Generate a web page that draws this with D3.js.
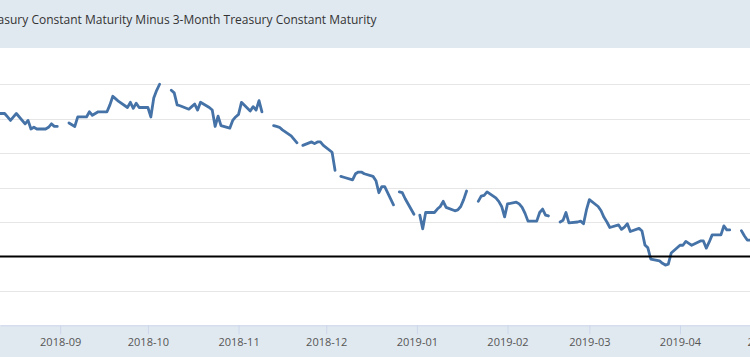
<!DOCTYPE html>
<html>
<head>
<meta charset="utf-8">
<script src="https://cdn.jsdelivr.net/npm/d3@7/dist/d3.min.js"></script>
<style>
  html, body { margin: 0; padding: 0; background: #ffffff; }
  svg { display: block; }
</style>
</head>
<body>
<div id="chart"></div>
<script>
const titleText = "10-Year Treasury Constant Maturity Minus 3-Month Treasury Constant Maturity";

const dates = [
  "2018-08-09","2018-08-10","2018-08-13","2018-08-14","2018-08-15","2018-08-16","2018-08-17",
  "2018-08-20","2018-08-21","2018-08-22","2018-08-23","2018-08-24","2018-08-27","2018-08-28",
  "2018-08-29","2018-08-30","2018-08-31","2018-09-03","2018-09-04","2018-09-05","2018-09-06",
  "2018-09-07","2018-09-10","2018-09-11","2018-09-12","2018-09-13","2018-09-14","2018-09-17",
  "2018-09-18","2018-09-19","2018-09-20","2018-09-21","2018-09-24","2018-09-25","2018-09-26",
  "2018-09-27","2018-09-28","2018-10-01","2018-10-02","2018-10-03","2018-10-04","2018-10-05",
  "2018-10-08","2018-10-09","2018-10-10","2018-10-11","2018-10-12","2018-10-15","2018-10-16",
  "2018-10-17","2018-10-18","2018-10-19","2018-10-22","2018-10-23","2018-10-24","2018-10-25",
  "2018-10-26","2018-10-29","2018-10-30","2018-10-31","2018-11-01","2018-11-02","2018-11-05",
  "2018-11-06","2018-11-07","2018-11-08","2018-11-09","2018-11-12","2018-11-13","2018-11-14",
  "2018-11-15","2018-11-16","2018-11-19","2018-11-20","2018-11-21","2018-11-22","2018-11-23",
  "2018-11-26","2018-11-27","2018-11-28","2018-11-29","2018-11-30","2018-12-03","2018-12-04",
  "2018-12-05","2018-12-06","2018-12-07","2018-12-10","2018-12-11","2018-12-12","2018-12-13",
  "2018-12-14","2018-12-17","2018-12-18","2018-12-19","2018-12-20","2018-12-21","2018-12-24",
  "2018-12-25","2018-12-26","2018-12-27","2018-12-28","2018-12-31","2019-01-01","2019-01-02",
  "2019-01-03","2019-01-04","2019-01-07","2019-01-08","2019-01-09","2019-01-10","2019-01-11",
  "2019-01-14","2019-01-15","2019-01-16","2019-01-17","2019-01-18","2019-01-21","2019-01-22",
  "2019-01-23","2019-01-24","2019-01-25","2019-01-28","2019-01-29","2019-01-30","2019-01-31",
  "2019-02-01","2019-02-04","2019-02-05","2019-02-06","2019-02-07","2019-02-08","2019-02-11",
  "2019-02-12","2019-02-13","2019-02-14","2019-02-15","2019-02-18","2019-02-19","2019-02-20",
  "2019-02-21","2019-02-22","2019-02-25","2019-02-26","2019-02-27","2019-02-28","2019-03-01",
  "2019-03-04","2019-03-05","2019-03-06","2019-03-07","2019-03-08","2019-03-11","2019-03-12",
  "2019-03-13","2019-03-14","2019-03-15","2019-03-18","2019-03-19","2019-03-20","2019-03-21",
  "2019-03-22","2019-03-25","2019-03-26","2019-03-27","2019-03-28","2019-03-29","2019-04-01",
  "2019-04-02","2019-04-03","2019-04-04","2019-04-05","2019-04-08","2019-04-09","2019-04-10",
  "2019-04-11","2019-04-12","2019-04-15","2019-04-16","2019-04-17","2019-04-18","2019-04-19",
  "2019-04-22","2019-04-23","2019-04-24","2019-04-25"
];

const spread = [
  0.83, 0.83, 0.83, 0.81, 0.79, 0.81, 0.83,
  0.77, 0.79, 0.74, 0.75, 0.74, 0.74, 0.75,
  0.77, 0.755, 0.755, null, 0.775, 0.765, 0.755,
  0.81, 0.81, 0.84, 0.82, 0.83, 0.84, 0.84,
  0.88, 0.93, 0.915, 0.90, 0.865, 0.895, 0.86,
  0.89, 0.865, 0.865, 0.81, 0.92, 0.965, 1.0,
  null, 0.965, 0.95, 0.88, 0.875, 0.855, 0.87,
  0.885, 0.85, 0.895, 0.865, 0.85, 0.755, 0.815,
  0.76, 0.745, 0.79, 0.81, 0.825, 0.895, 0.845,
  0.87, 0.85, 0.905, 0.84, null, 0.76, 0.755,
  0.75, 0.735, 0.70, 0.68, 0.66, null, 0.645,
  0.665, 0.655, 0.665, 0.665, 0.645, 0.605, 0.50,
  null, 0.465, 0.46, 0.445, 0.48, 0.49, 0.49,
  0.48, 0.465, 0.44, 0.37, 0.405, 0.405, 0.30,
  null, 0.375, 0.37, 0.335, 0.245, null, 0.24,
  0.16, 0.255, 0.255, 0.275, 0.29, 0.32, 0.285,
  0.265, 0.27, 0.29, 0.33, 0.38, null, 0.32,
  0.35, 0.355, 0.375, 0.34, 0.32, 0.29, 0.23,
  0.305, 0.315, 0.305, 0.285, 0.25, 0.205, 0.205,
  0.255, 0.275, 0.24, 0.235, null, 0.20, 0.21,
  0.255, 0.195, 0.20, 0.205, 0.19, 0.27, 0.33,
  0.29, 0.265, 0.227, 0.20, 0.168, 0.183, 0.157,
  0.17, 0.19, 0.145, 0.163, 0.148, 0.067, 0.05,
  -0.015, -0.026, -0.04, -0.05, -0.045, 0.02, 0.065,
  0.065, 0.087, 0.076, 0.065, 0.09, 0.09, 0.048,
  0.084, 0.125, 0.125, 0.177, 0.154, 0.154, null,
  0.15, 0.12, 0.095, 0.095
];

const yTickValues = [-0.2, 0, 0.2, 0.4, 0.6, 0.8, 1.0];
const xTickFormat = "%Y-%m";

const W = 750, H = 357;
const bandH = 48, axisY = 325.3;
const parse = d3.utcParse("%Y-%m-%d");
const data = dates.map((d, i) => ({ date: parse(d), value: spread[i] }));

// calibrate visible window: 2018-09-01 at x=60.2, 2019-04-01 at x=680
const calib = d3.scaleUtc()
  .domain([parse("2018-09-01"), parse("2019-04-01")])
  .range([60.2, 680]);
const x = d3.scaleUtc().domain([calib.invert(0), calib.invert(W)]).range([0, W]);
const y = d3.scaleLinear().domain([-0.4, 1.2]).range([axisY, 49.8]);

const svg = d3.select("#chart").append("svg")
  .attr("width", W).attr("height", H)
  .style("font-family", "'Open Sans', sans-serif");

svg.append("rect").attr("x", 0).attr("y", 0).attr("width", W).attr("height", H).attr("fill", "#ffffff");

svg.append("defs").append("clipPath").attr("id", "plotclip")
  .append("rect").attr("x", 0).attr("y", bandH).attr("width", W).attr("height", axisY - bandH);

// gridlines
svg.append("g").selectAll("line")
  .data(yTickValues.filter(v => v !== 0))
  .join("line")
  .attr("x1", 0).attr("x2", W)
  .attr("y1", d => Math.round(y(d)) + 0.5).attr("y2", d => Math.round(y(d)) + 0.5)
  .attr("stroke", "#e6e6e6").attr("stroke-width", 1);

// series
const line = d3.line()
  .defined(d => d.value !== null)
  .x(d => x(d.date))
  .y(d => y(d.value));

svg.append("path")
  .datum(data)
  .attr("clip-path", "url(#plotclip)")
  .attr("fill", "none")
  .attr("stroke", "#4572a7")
  .attr("stroke-width", 2.8)
  .attr("stroke-linejoin", "round")
  .attr("stroke-linecap", "round")
  .attr("d", line);

// zero line
svg.append("line")
  .attr("x1", 0).attr("x2", W)
  .attr("y1", y(0)).attr("y2", y(0))
  .attr("stroke", "#000000").attr("stroke-width", 2);

// title band
svg.append("rect").attr("x", 0).attr("y", 0).attr("width", W).attr("height", bandH).attr("fill", "#e1e9f0");
svg.append("text")
  .attr("x", 376.5).attr("y", 24)
  .attr("text-anchor", "end")
  .attr("font-size", "12px")
  .attr("fill", "#333333")
  .text(titleText);

// x axis band
svg.append("rect").attr("x", 0).attr("y", axisY).attr("width", W).attr("height", H - axisY).attr("fill", "#e1e9f0");

const monthTicks = d3.utcMonth.range(x.domain()[0], d3.utcMonth.offset(x.domain()[1], 1));

const xAxis = d3.axisBottom(x)
  .tickValues(monthTicks)
  .tickFormat(d3.utcFormat(xTickFormat))
  .tickSize(9)
  .tickSizeOuter(0)
  .tickPadding(4);

const gx = svg.append("g").attr("transform", `translate(0,${axisY})`).call(xAxis);
gx.select(".domain").attr("stroke", "#ccd6eb");
gx.selectAll(".tick line").attr("stroke", "#ccd6eb");
gx.selectAll(".tick text")
  .attr("fill", "#555555")
  .style("font-size", "11px")
  .style("font-family", "'Open Sans', sans-serif");
</script>
</body>
</html>
